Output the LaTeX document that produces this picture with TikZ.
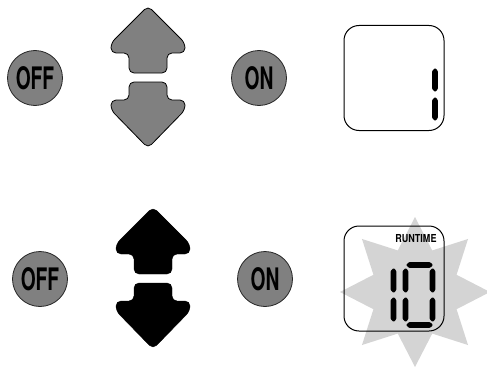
\documentclass[tikz,border=0pt]{standalone}
\usepackage{fontspec}
\newfontfamily\keyfont[FakeStretch=0.62]{TeX Gyre Heros}
\newfontfamily\lcdfont[FakeStretch=0.82]{TeX Gyre Heros}
\definecolor{keygray}{RGB}{128,128,128}
\definecolor{burstgray}{RGB}{212,212,212}
\tikzset{
  key/.style={circle, draw=black!85, line width=0.8pt, fill=keygray, minimum size=55pt, inner sep=0pt, font=\keyfont\bfseries\fontsize{31}{31}\selectfont},
  arrgray/.style={draw=black, line width=0.8pt, fill=keygray, rounded corners=5pt},
  arrblack/.style={fill=black, rounded corners=5pt},
  lcd/.style={draw=black, line width=1pt, rounded corners=15pt, minimum width=100pt, minimum height=105pt, inner sep=0pt},
  label/.style={font=\lcdfont\bfseries\fontsize{11}{11}\selectfont, inner sep=0pt}
}
% one segment of the seven-segment digits
\newcommand{\vseg}[3]{\fill[rounded corners=0.8pt] (#1,#2) -- ++(2.8,2.8) -- (#1+2.8,#3-2.8) -- (#1,#3) -- (#1-2.8,#3-2.8) -- (#1-2.8,#2+2.8) -- cycle;}
\newcommand{\hseg}[3]{\fill[rounded corners=0.8pt] (#1,#3) -- ++(2.8,-2.8) -- (#2-2.8,#3-2.8) -- (#2,#3) -- (#2-2.8,#3+2.8) -- (#1+2.8,#3+2.8) -- cycle;}
% up and down keys
\newcommand{\arrowpair}[1]{%
  \draw[#1] (148,6) -- (185,43) -- (185,53) -- (167,53) -- (167,73) -- (129,73) -- (129,53) -- (111,53) -- (111,43) -- cycle;
  \draw[#1] (129,82) -- (167,82) -- (167,100) -- (185,100) -- (185,110) -- (148,148) -- (111,110) -- (111,100) -- (129,100) -- cycle;}
\begin{document}
\begin{tikzpicture}[x=1pt,y=-1pt]
  \useasboundingbox (0,0) rectangle (487,369);
  % top row
  \node[key] (off1) at (35,78) {OFF};
  \arrowpair{arrgray}
  \node[key] (on1) at (259,78) {ON};
  \node[lcd] (lcd1) at (394,78) {};
  \vseg{435}{68}{92}
  \vseg{435}{97}{121}
  % bottom row
  \node[key] (off2) at (40,279) {OFF};
  \begin{scope}[shift={(5,201)}]
    \arrowpair{arrblack}
  \end{scope}
  \node[key] (on2) at (265,279) {ON};
  \begin{scope}[shift={(415,292)}]
    \fill[burstgray] (90:75) \foreach \i in {1,...,15} { -- (90+22.5*\i:{75-30*mod(\i,2)}) } -- cycle;
  \end{scope}
  \node[lcd] (lcd2) at (394,278.5) {};
  \node[label] (runtime) at (416,239) {RUNTIME};
  \vseg{393.5}{268}{293}
  \vseg{393.5}{297}{322}
  \vseg{405.5}{268}{293}
  \vseg{405.5}{297}{322}
  \vseg{432.5}{268}{293}
  \vseg{432.5}{297}{322}
  \hseg{406}{433}{265}
  \hseg{406}{433}{325}
\end{tikzpicture}
\end{document}
